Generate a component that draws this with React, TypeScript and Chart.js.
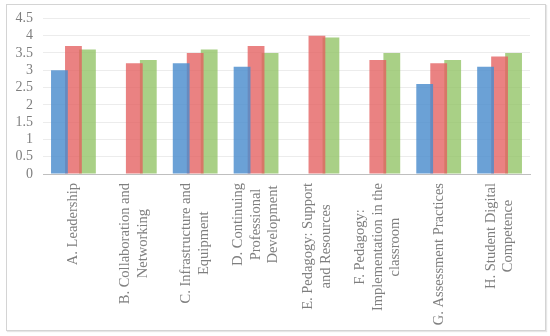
import React, { useEffect, useRef } from "react";
import { Chart, registerables } from "chart.js";

Chart.register(...registerables);

const categories: string[][] = [
  ["A. Leadership"],
  ["B. Collaboration and", "Networking"],
  ["C. Infrastructure and", "Equipment"],
  ["D. Continuing", "Professional", "Development"],
  ["E. Pedagogy: Support", "and Resources"],
  ["F. Pedagogy:", "Implementation in the", "classroom"],
  ["G. Assessment Practices"],
  ["H. Student Digital", "Competence"],
];
const seriesBlue: (number | null)[] = [3.0, null, 3.2, 3.1, null, null, 2.6, 3.1];
const seriesRed: (number | null)[] = [3.7, 3.2, 3.5, 3.7, 4.0, 3.3, 3.2, 3.4];
const seriesGreen: (number | null)[] = [3.6, 3.3, 3.6, 3.5, 3.95, 3.5, 3.3, 3.5];

const FONT = "'Liberation Serif', 'DejaVu Serif', serif";

export default function App() {
  const ref = useRef<HTMLCanvasElement | null>(null);
  useEffect(() => {
    document.body.style.margin = "0";
    const labelPlugin = {
      id: "rotLabels",
      afterDraw(chart: any) {
        const ctx = chart.ctx;
        const xs = chart.scales.x;
        ctx.save();
        ctx.font = `14.5px ${FONT}`;
        ctx.fillStyle = "#7f7f7f";
        ctx.textAlign = "center";
        ctx.textBaseline = "middle";
        const lh = 17.5;
        const top = xs.top + 9;
        categories.forEach((lines, i) => {
          const x = xs.getPixelForTick(i);
          const maxW = Math.max(...lines.map((l) => ctx.measureText(l).width));
          const cy = top + maxW / 2;
          lines.forEach((line, j) => {
            const lx = x + (j - (lines.length - 1) / 2) * lh;
            ctx.save();
            ctx.translate(lx, cy);
            ctx.rotate(-Math.PI / 2);
            ctx.fillText(line, 0, 0);
            ctx.restore();
          });
        });
        ctx.restore();
      },
    };
    const chart = new Chart(ref.current!, {
      type: "bar",
      data: {
        labels: categories.map((c) => c.join(" ")),
        datasets: [
          { data: seriesBlue, backgroundColor: "rgba(75,140,205,0.82)" },
          { data: seriesRed, backgroundColor: "rgba(228,95,95,0.78)" },
          { data: seriesGreen, backgroundColor: "rgba(145,195,100,0.78)" },
        ],
      },
      options: {
        animation: false,
        responsive: false,
        maintainAspectRatio: false,
        layout: { padding: { left: 12, right: 20, top: 15, bottom: 0 } },
        plugins: { legend: { display: false }, tooltip: { enabled: false } },
        datasets: { bar: { categoryPercentage: 0.69, barPercentage: 1.2 } },
        scales: {
          x: {
            grid: { display: false },
            border: { color: "#bfbfbf", width: 1 },
            ticks: { display: false },
            afterFit(scale: any) {
              scale.height = 162;
            },
          },
          y: {
            min: 0,
            max: 4.5,
            afterFit(scale: any) {
              scale.width = 31;
            },
            ticks: {
              stepSize: 0.5,
              autoSkip: false,
              color: "#7f7f7f",
              font: { family: FONT, size: 14 },
              padding: 10,
              callback: (v: any) => String(Math.round(Number(v) * 10) / 10),
            },
            grid: { color: "#ececec", drawTicks: false },
            border: { display: false },
          },
        },
      },
      plugins: [labelPlugin],
    } as any);
    return () => chart.destroy();
  }, []);
  return (
    <div style={{ position: "relative", width: 550, height: 336, background: "#fff" }}>
      <canvas ref={ref} width={550} height={336} style={{ position: "absolute", left: 0, top: 0 }} />
      <div
        style={{
          position: "absolute",
          left: 6,
          top: 4,
          width: 538,
          height: 325,
          border: "1px solid #d4d4d4",
          boxShadow: "1px 1px 1px #e6e6e6",
          pointerEvents: "none",
        }}
      />
    </div>
  );
}
